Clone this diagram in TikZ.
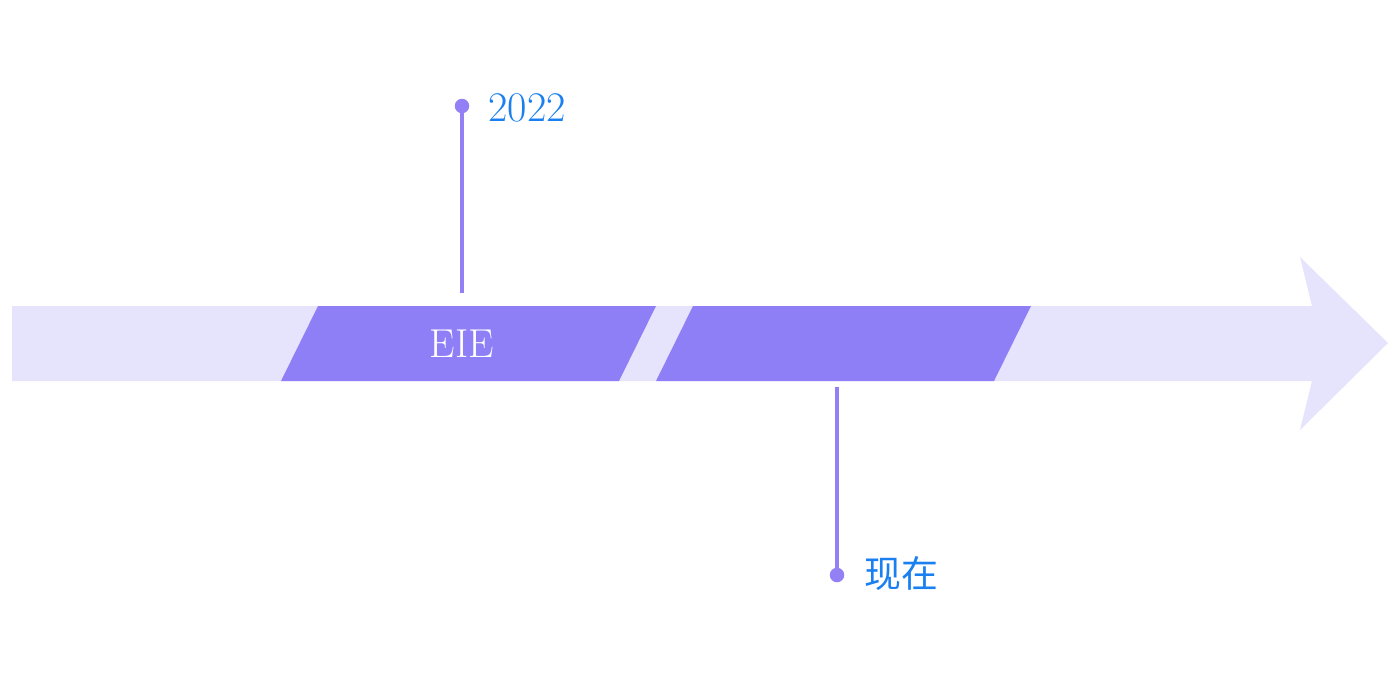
\documentclass[tikz,border=0pt]{standalone}
\usepackage{fontspec}
\newfontfamily\cjk{Noto Sans CJK SC}
\definecolor{band}{HTML}{E6E4FC}
\definecolor{seg}{HTML}{8F7FF7}
\definecolor{stem}{HTML}{9380F5}
\definecolor{lbl}{HTML}{1A7FF0}
\begin{document}
\begin{tikzpicture}[x=0.02cm,y=-0.02cm,
  stemline/.style={draw=stem,line width=2.2pt},
  dot/.style={circle,fill=stem,inner sep=0pt,minimum size=0.29cm},
  yearlbl/.style={text=lbl,font=\fontsize{24}{28}\selectfont,anchor=west,inner sep=0pt},
  seglbl/.style={text=white,font=\fontsize{23}{27}\selectfont}]
\useasboundingbox (0,0) rectangle (1400,687);
\fill[white] (0,0) rectangle (1400,687);
% arrow band
\fill[band] (12,306) -- (1312,306) -- (1300,257) -- (1388,343) -- (1300,430) -- (1312,381) -- (12,381) -- cycle;
% segments
\fill[seg] (318,306) -- (656,306) -- (619,381) -- (281,381) -- cycle;
\fill[seg] (693,306) -- (1031,306) -- (994,381) -- (656,381) -- cycle;
\node[seglbl] (eie) at (462,344) {EIE};
% markers
\node[dot] (d1) at (462,106) {};
\coordinate (s1) at (462,293);
\draw[stemline] (d1.center) -- (s1);
\node[yearlbl] (t1) at (488,108) {2022};
\node[dot] (d2) at (837,575) {};
\coordinate (s2) at (837,387);
\draw[stemline] (s2) -- (d2.center);
\node[yearlbl,font=\cjk\fontsize{21}{26}\selectfont] (t2) at (864,574) {现在};
\end{tikzpicture}
\end{document}
